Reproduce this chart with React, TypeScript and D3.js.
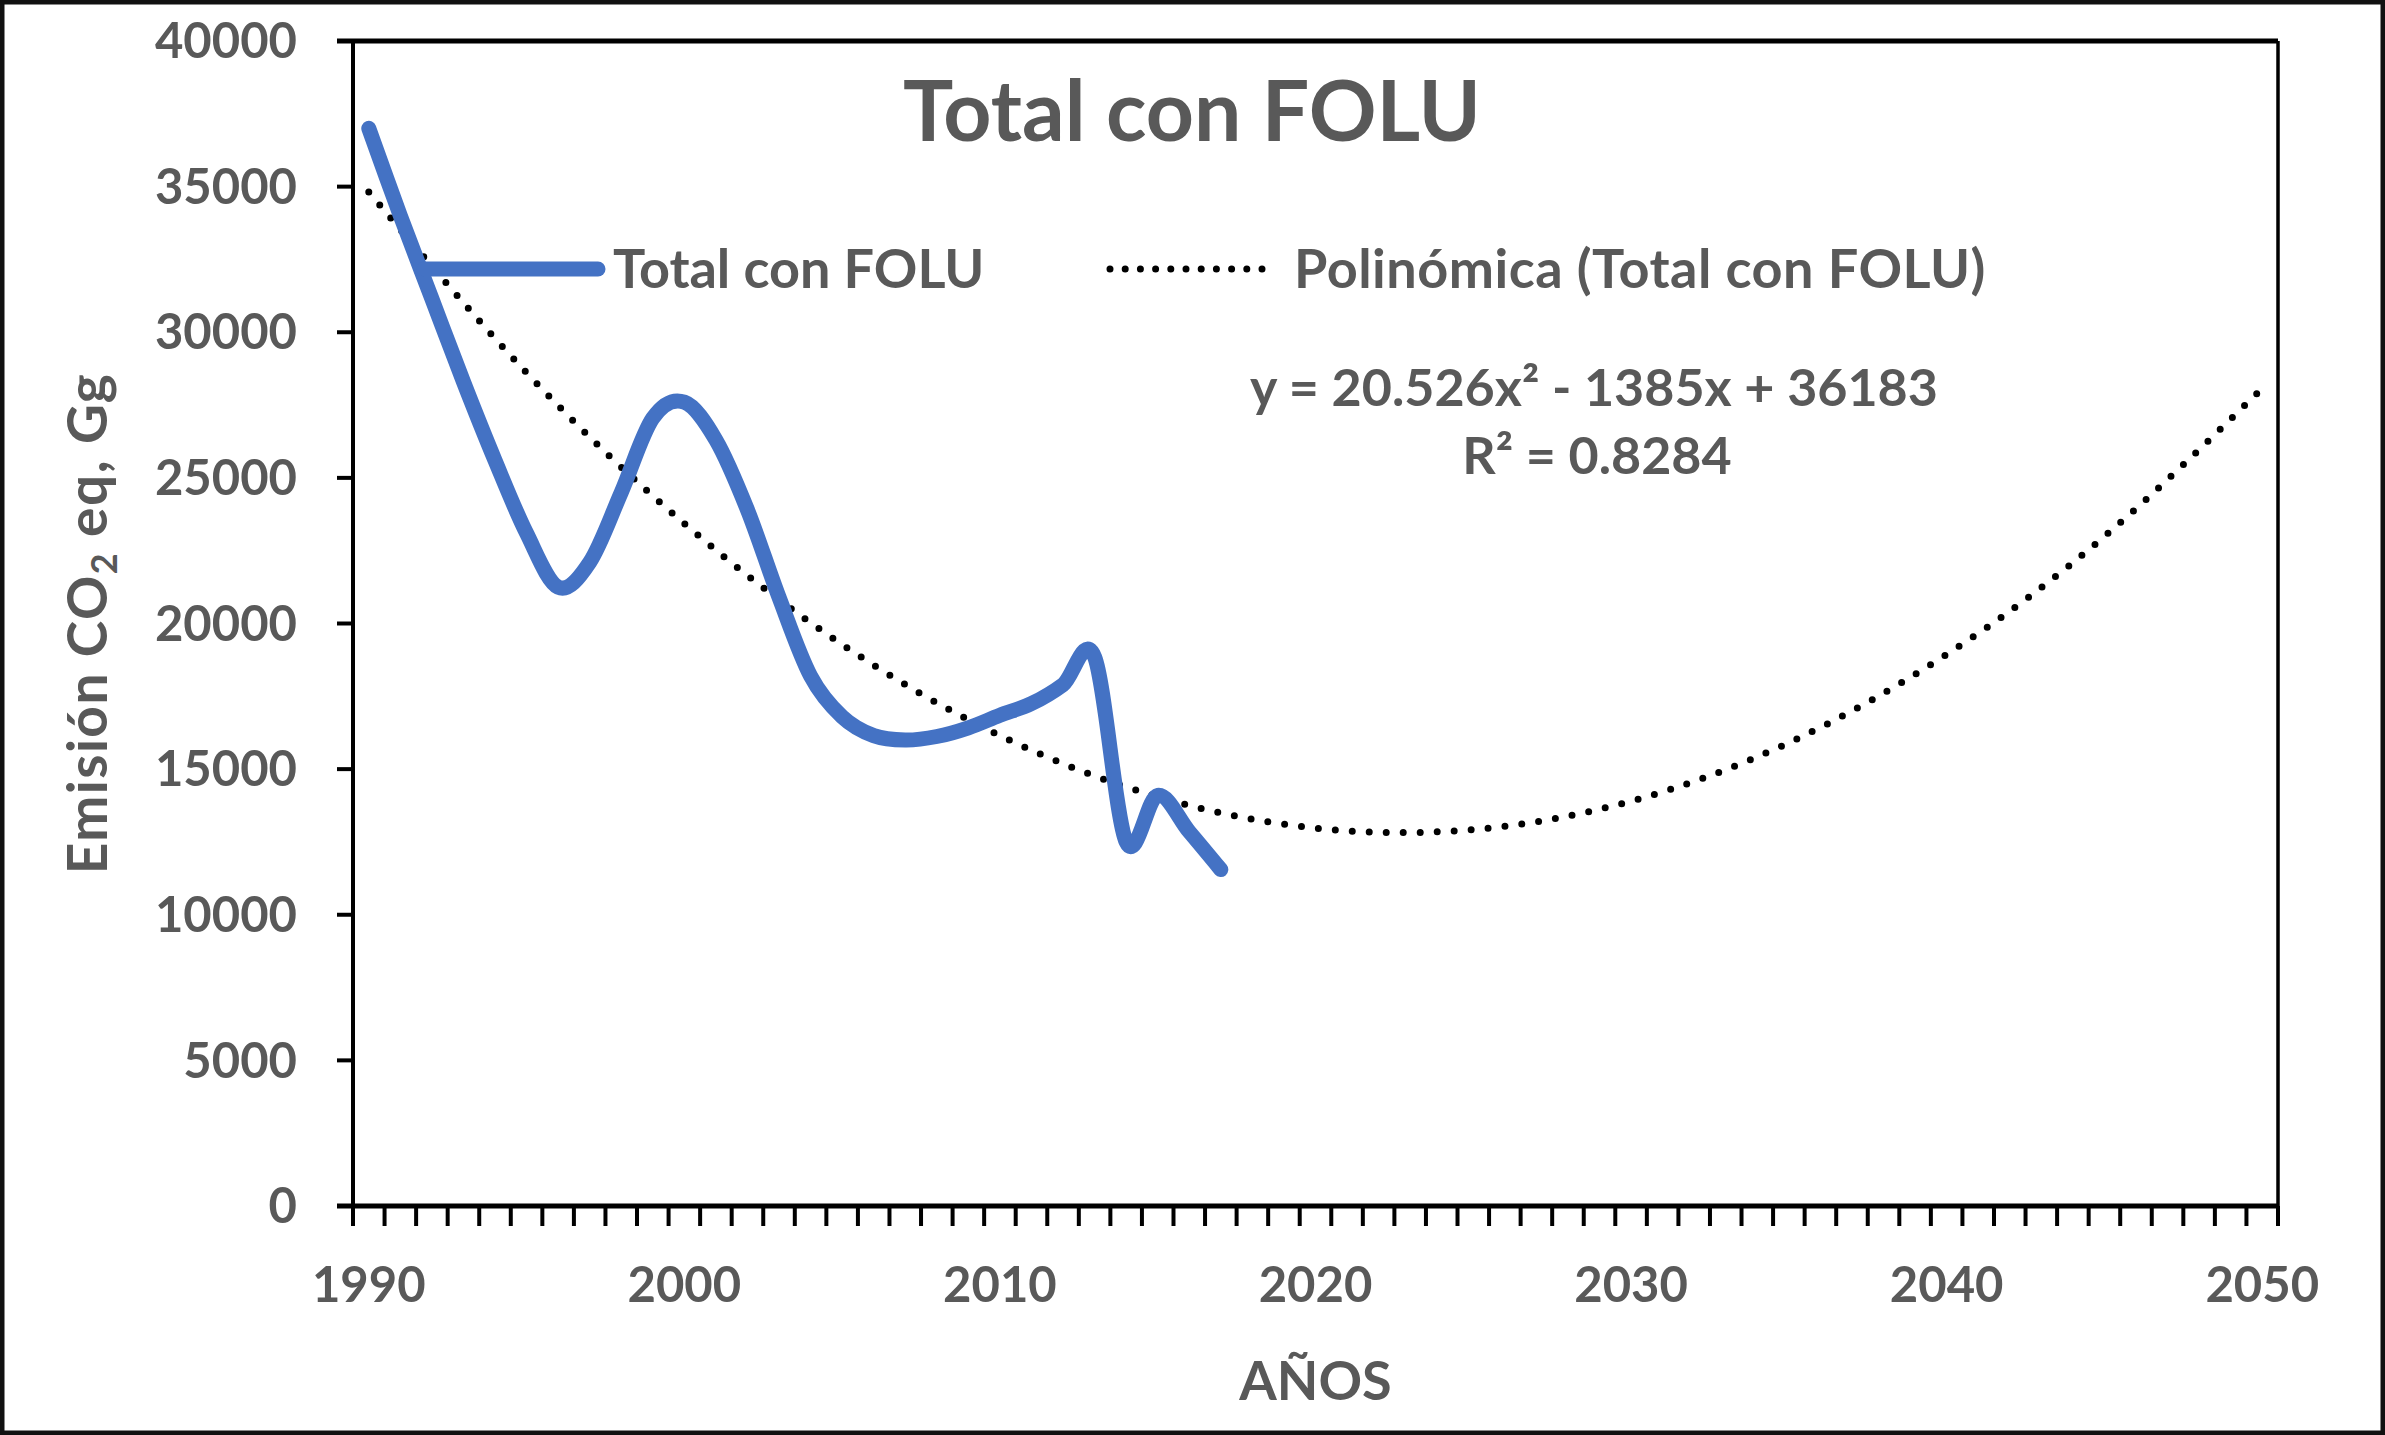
import React from "react";
import * as d3 from "d3";

// ---- Data ----
const dataYears = [1990, 1991, 1992, 1993, 1994, 1995, 1996, 1997, 1998, 1999, 2000, 2001, 2002, 2003, 2004, 2005, 2006, 2007, 2008, 2009, 2010, 2011, 2012, 2013, 2014, 2015, 2016, 2017];
const totalConFolu = [37000, 34000, 31150, 28300, 25600, 23100, 21250, 22100, 24500, 27050, 27600, 26300, 23900, 20900, 18200, 16800, 16150, 16000, 16120, 16420, 16850, 17250, 17900, 18850, 12500, 14100, 12850, 11550];

// Polynomial trendline
const trendYears = [1990, 1995, 2000, 2005, 2010, 2015, 2020, 2025, 2030, 2035, 2040, 2045, 2050];
const trendValues = [34818, 28612, 23432, 19278, 16150, 14049, 12974, 12925, 13902, 15906, 18936, 22992, 28076];

const axisFirstYear = 1990;
const axisLastYear = 2050;
const xLabelYears = [1990, 2000, 2010, 2020, 2030, 2040, 2050];
const yTicks = [0, 5000, 10000, 15000, 20000, 25000, 30000, 35000, 40000];

const titleText = "Total con FOLU";
const seriesName = "Total con FOLU";
const trendName = "Polinómica (Total con FOLU)";
const equationText = "y = 20.526x² - 1385x + 36183";
const r2Text = "R² = 0.8284";
const xAxisTitle = "AÑOS";

// ---- Layout ----
const W = 2385;
const H = 1435;
const L = 353, R = 2278, T = 41, B = 1206;
const FONT = "Lato, 'Open Sans', 'DejaVu Sans', sans-serif";
const GRAY = "#595959";
const BLUE = "#4472C4";

export default function App() {
  const axisYears = d3.range(axisFirstYear, axisLastYear + 1);
  const x = d3.scaleBand<number>().domain(axisYears).range([L, R]).padding(0);
  const cx = (yr: number) => (x(yr) as number) + x.bandwidth() / 2;
  const y = d3.scaleLinear().domain([0, 40000]).range([B, T]);

  const mainLine = d3
    .line<number>()
    .x((_, i) => cx(dataYears[i]))
    .y((d) => y(d))
    .curve(d3.curveCatmullRom.alpha(0));

  const trendLine = d3
    .line<number>()
    .x((_, i) => cx(trendYears[i]))
    .y((d) => y(d))
    .curve(d3.curveNatural);

  const xTickPos = axisYears.map((yr) => x(yr) as number).concat([R]);

  return (
    <svg
      width={W}
      height={H}
      viewBox={`0 0 ${W} ${H}`}
      style={{ position: "absolute", left: 0, top: 0, display: "block", background: "#fff" }}
    >
      <rect x={0} y={0} width={W} height={H} fill="#fff" />
      {/* outer frame */}
      <rect x={2} y={2} width={W - 4} height={H - 4} fill="none" stroke="#111" strokeWidth={5} />

      {/* title */}
      <text x={1192} y={141} textAnchor="middle" fontFamily={FONT} fontWeight={700} fontSize={84} fill={GRAY}>
        {titleText}
      </text>

      {/* trendline */}
      <path
        d={trendLine(trendValues) || ""}
        fill="none"
        stroke="#000"
        strokeWidth={7}
        strokeLinecap="round"
        strokeDasharray="0 17"
      />

      {/* main series */}
      <path
        d={mainLine(totalConFolu) || ""}
        fill="none"
        stroke={BLUE}
        strokeWidth={15}
        strokeLinecap="round"
        strokeLinejoin="round"
      />

      {/* plot frame */}
      <line x1={L - 16} x2={R} y1={T} y2={T} stroke="#000" strokeWidth={5} />
      <line x1={R} x2={R} y1={T} y2={B} stroke="#000" strokeWidth={3.5} />
      <line x1={L} x2={L} y1={T} y2={B + 20} stroke="#000" strokeWidth={4} />
      <line x1={L - 16} x2={R} y1={B} y2={B} stroke="#000" strokeWidth={5} />

      {/* y ticks */}
      {yTicks.map((v) => (
        <g key={v}>
          <line x1={L - 16} x2={L} y1={y(v)} y2={y(v)} stroke="#000" strokeWidth={4} />
          <text
            x={297}
            y={y(v)}
            dy="0.35em"
            textAnchor="end"
            fontFamily={FONT}
            fontWeight={700}
            fontSize={49}
            fill={GRAY}
          >
            {v}
          </text>
        </g>
      ))}

      {/* x ticks */}
      {xTickPos.map((p, i) => (
        <line key={i} x1={p} x2={p} y1={B} y2={B + 20} stroke="#000" strokeWidth={4} />
      ))}
      {xLabelYears.map((yr) => (
        <text
          key={yr}
          x={cx(yr)}
          y={1285}
          dy="0.35em"
          textAnchor="middle"
          fontFamily={FONT}
          fontWeight={700}
          fontSize={49}
          fill={GRAY}
        >
          {yr}
        </text>
      ))}

      {/* axis titles */}
      <text x={(L + R) / 2} y={1381} dy="0.35em" textAnchor="middle" fontFamily={FONT} fontWeight={700} fontSize={54} fill={GRAY}>
        {xAxisTitle}
      </text>
      <text
        transform={`translate(88, ${(T + B) / 2}) rotate(-90)`}
        dy="0.35em"
        textAnchor="middle"
        fontFamily={FONT}
        fontWeight={700}
        fontSize={55}
        letterSpacing={1.5}
        fill={GRAY}
      >
        Emisión CO
        <tspan fontSize={36} dy={10}>2</tspan>
        <tspan dy={-10}> eq, Gg</tspan>
      </text>

      {/* legend */}
      <line x1={424} x2={598} y1={269} y2={269} stroke={BLUE} strokeWidth={15} strokeLinecap="round" />
      <text x={613} y={269} dy="0.35em" fontFamily={FONT} fontWeight={700} fontSize={54} fill={GRAY}>
        {seriesName}
      </text>
      <line x1={1110} x2={1262} y1={269} y2={269} stroke="#000" strokeWidth={7} strokeLinecap="round" strokeDasharray="0 15.2" />
      <text x={1294} y={269} dy="0.35em" fontFamily={FONT} fontWeight={700} fontSize={54} letterSpacing={0.5} fill={GRAY}>
        {trendName}
      </text>

      {/* equation */}
      <text x={1594} y={388} dy="0.35em" textAnchor="middle" fontFamily={FONT} fontWeight={700} fontSize={52} fill={GRAY}>
        {equationText}
      </text>
      <text x={1597} y={456} dy="0.35em" textAnchor="middle" fontFamily={FONT} fontWeight={700} fontSize={52} fill={GRAY}>
        {r2Text}
      </text>
    </svg>
  );
}
